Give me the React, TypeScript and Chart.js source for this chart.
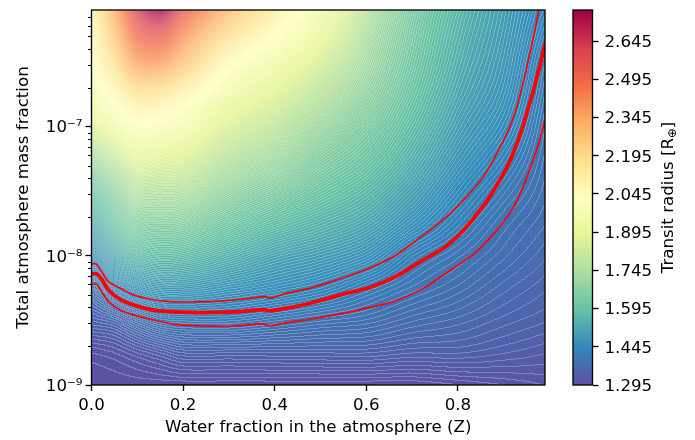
import React, { useEffect, useRef } from "react";
import { Chart, registerables } from "chart.js";

Chart.register(...registerables);

const FONT = "'DejaVu Sans', sans-serif";
const FS = 16.67;
const X_MAX = 0.99;
const Y_MIN = 1e-9;
const Y_MAX = 8e-7;
const C_MIN = 1.295;
const C_MAX = 2.767;
const BAND = (C_MAX - C_MIN) / 300;

const spectral = [
  "#5e4fa2", "#3288bd", "#66c2a5", "#abdda4", "#e6f598", "#ffffbf",
  "#fee08b", "#fdae61", "#f46d43", "#d53e4f", "#9e0142",
];

const gridZ = [0, 0.05, 0.1, 0.15, 0.2, 0.3, 0.4, 0.5, 0.6, 0.7, 0.8, 0.9, 0.99];
const gridLogM = [-9, -8.75, -8.5, -8.25, -8, -7.75, -7.5, -7.25, -7, -6.75, -6.5, -6.25, -6.097];
// transit radius, one row per gridLogM entry (bottom to top), one column per gridZ entry
const r00 = [1.3, 1.3, 1.3, 1.3, 1.3, 1.3, 1.3, 1.3, 1.3, 1.3, 1.305, 1.31, 1.315];
const r01 = [1.31, 1.315, 1.325, 1.335, 1.345, 1.345, 1.345, 1.345, 1.345, 1.34, 1.34, 1.335, 1.33];
const r02 = [1.35, 1.36, 1.385, 1.405, 1.41, 1.41, 1.4, 1.39, 1.383, 1.37, 1.362, 1.352, 1.345];
const r03 = [1.39, 1.44, 1.475, 1.49, 1.49, 1.475, 1.46, 1.443, 1.418, 1.397, 1.382, 1.366, 1.355];
const r04 = [1.46, 1.52, 1.565, 1.58, 1.575, 1.545, 1.515, 1.495, 1.47, 1.424, 1.4, 1.38, 1.365];
const r05 = [1.53, 1.6, 1.66, 1.67, 1.665, 1.62, 1.58, 1.55, 1.52, 1.47, 1.425, 1.392, 1.374];
const r06 = [1.6, 1.68, 1.76, 1.765, 1.76, 1.695, 1.65, 1.605, 1.565, 1.51, 1.452, 1.41, 1.381];
const r07 = [1.72, 1.8, 1.88, 1.875, 1.86, 1.775, 1.725, 1.66, 1.61, 1.545, 1.48, 1.432, 1.387];
const r08 = [1.86, 1.94, 2.01, 2.0, 1.965, 1.86, 1.795, 1.715, 1.65, 1.575, 1.505, 1.455, 1.394];
const r09 = [1.97, 2.06, 2.16, 2.15, 2.09, 1.95, 1.87, 1.78, 1.69, 1.6, 1.525, 1.473, 1.403];
const r10 = [2.03, 2.18, 2.36, 2.38, 2.28, 2.06, 1.955, 1.85, 1.725, 1.62, 1.54, 1.485, 1.414];
const r11 = [2.06, 2.28, 2.52, 2.58, 2.44, 2.21, 2.05, 1.92, 1.755, 1.635, 1.552, 1.495, 1.43];
const r12 = [2.08, 2.33, 2.62, 2.76, 2.56, 2.3, 2.12, 1.96, 1.775, 1.645, 1.56, 1.5, 1.44];
const radius = [r00, r01, r02, r03, r04, r05, r06, r07, r08, r09, r10, r11, r12];

const upperZ = [0, 0.01, 0.022, 0.037, 0.062, 0.091, 0.128, 0.172, 0.237, 0.287, 0.339, 0.379, 0.389, 0.427, 0.478, 0.529, 0.594, 0.66, 0.696, 0.747, 0.784, 0.813, 0.856, 0.893, 0.922, 0.944, 0.962, 0.977];
const upperLogM = [-8.062, -8.062, -8.122, -8.199, -8.25, -8.302, -8.336, -8.354, -8.357, -8.349, -8.331, -8.316, -8.328, -8.289, -8.25, -8.194, -8.114, -8.005, -7.915, -7.78, -7.669, -7.566, -7.385, -7.153, -6.92, -6.636, -6.351, -6.093];
const centerZ = [0, 0.011, 0.022, 0.037, 0.062, 0.091, 0.135, 0.179, 0.244, 0.31, 0.376, 0.389, 0.427, 0.478, 0.543, 0.609, 0.667, 0.718, 0.769, 0.813, 0.849, 0.868, 0.908, 0.937, 0.959, 0.977, 0.988, 0.992];
const centerLogM = [-8.14, -8.14, -8.181, -8.264, -8.336, -8.38, -8.421, -8.434, -8.44, -8.434, -8.416, -8.426, -8.405, -8.367, -8.302, -8.243, -8.155, -8.044, -7.94, -7.798, -7.643, -7.55, -7.308, -7.049, -6.791, -6.558, -6.39, -6.341];
const lowerZ = [0, 0.011, 0.022, 0.037, 0.062, 0.099, 0.135, 0.186, 0.244, 0.303, 0.376, 0.39, 0.427, 0.478, 0.543, 0.601, 0.66, 0.725, 0.784, 0.835, 0.878, 0.908, 0.928, 0.955, 0.977, 0.989];
const lowerLogM = [-8.219, -8.219, -8.277, -8.354, -8.419, -8.465, -8.496, -8.533, -8.543, -8.545, -8.527, -8.543, -8.517, -8.491, -8.45, -8.405, -8.354, -8.25, -8.11, -7.985, -7.83, -7.695, -7.58, -7.35, -7.12, -6.96];

const xTicks = [0, 0.2, 0.4, 0.6, 0.8];
const yMajorTicks = [1e-9, 1e-8, 1e-7];
const yMinorTicks = [2e-9, 3e-9, 4e-9, 5e-9, 6e-9, 7e-9, 8e-9, 9e-9, 2e-8, 3e-8, 4e-8, 5e-8, 6e-8, 7e-8, 8e-8, 9e-8, 2e-7, 3e-7, 4e-7, 5e-7, 6e-7, 7e-7];
const yMajorLabels = ["10\u207b\u2079", "10\u207b\u2078", "10\u207b\u2077"];
const colorbarTicks = [1.295, 1.445, 1.595, 1.745, 1.895, 2.045, 2.195, 2.345, 2.495, 2.645];

const hexRgb = (h: string) => [1, 3, 5].map((i) => parseInt(h.slice(i, i + 2), 16));
const rgbStops = spectral.map(hexRgb);

function colorFor(v: number) {
  const t = Math.max(0, Math.min(0.99999, (v - C_MIN) / (C_MAX - C_MIN))) * (rgbStops.length - 1);
  const i = Math.floor(t);
  const f = t - i;
  return [0, 1, 2].map((k) => rgbStops[i][k] + (rgbStops[i + 1][k] - rgbStops[i][k]) * f);
}

function segment(axis: number[], v: number) {
  let i = 0;
  while (i < axis.length - 2 && axis[i + 1] < v) i++;
  return i;
}

// smooth curve through a row of read values, respecting the uneven grid spacing
function hermite(axis: number[], vals: (i: number) => number, i: number, v: number) {
  const n = axis.length - 1;
  const slope = (k: number) => {
    const a = Math.max(0, k - 1);
    const b = Math.min(n, k + 1);
    return (vals(b) - vals(a)) / (axis[b] - axis[a]);
  };
  const h = axis[i + 1] - axis[i];
  const t = Math.max(0, Math.min(1, (v - axis[i]) / h));
  const t2 = t * t;
  const t3 = t2 * t;
  return (
    (2 * t3 - 3 * t2 + 1) * vals(i) +
    (t3 - 2 * t2 + t) * h * slope(i) +
    (-2 * t3 + 3 * t2) * vals(i + 1) +
    (t3 - t2) * h * slope(i + 1)
  );
}

function sampleField(z: number, segZ: number, logM: number, segM: number) {
  const cache: Record<number, number> = {};
  const colVal = (j: number) => {
    if (cache[j] === undefined) cache[j] = hermite(gridZ, (i) => radius[j][i], segZ, z);
    return cache[j];
  };
  return hermite(gridLogM, colVal, segM, logM);
}

const zeroPadding = (s: any) => {
  s.paddingTop = 0;
  s.paddingBottom = 0;
  s.paddingLeft = 0;
  s.paddingRight = 0;
};

const fieldPlugin = {
  id: "field",
  beforeDatasetsDraw(chart: any) {
    const { ctx, chartArea: a, scales } = chart;
    const x0 = Math.round(a.left);
    const y0 = Math.round(a.top);
    const w = Math.round(a.right) - x0;
    const h = Math.round(a.bottom) - y0;
    const zs: number[] = [];
    for (let i = 0; i <= w; i++) zs.push(scales.x.getValueForPixel(x0 + i + 0.5));
    const segs = zs.map((z) => segment(gridZ, z));
    const bands = new Float64Array((w + 1) * (h + 1));
    for (let j = 0; j <= h; j++) {
      const logM = Math.log10(scales.y.getValueForPixel(y0 + j + 0.5));
      const sm = segment(gridLogM, logM);
      for (let i = 0; i <= w; i++) {
        bands[j * (w + 1) + i] = Math.floor((sampleField(zs[i], segs[i], logM, sm) - C_MIN) / BAND);
      }
    }
    const off = document.createElement("canvas");
    off.width = w;
    off.height = h;
    const octx = off.getContext("2d")!;
    const img = octx.createImageData(w, h);
    for (let j = 0; j < h; j++) {
      for (let i = 0; i < w; i++) {
        const b = bands[j * (w + 1) + i];
        const edge = b !== bands[j * (w + 1) + i + 1] || b !== bands[(j + 1) * (w + 1) + i];
        const c = colorFor(C_MIN + (b + 0.5) * BAND);
        const o = (j * w + i) * 4;
        const alpha = edge ? 0.25 : 0;
        img.data[o] = c[0] + (255 - c[0]) * alpha;
        img.data[o + 1] = c[1] + (255 - c[1]) * alpha;
        img.data[o + 2] = c[2] + (255 - c[2]) * alpha;
        img.data[o + 3] = 255;
      }
    }
    octx.putImageData(img, 0, 0);
    ctx.drawImage(off, x0, y0);
  },
  afterDatasetsDraw(chart: any) {
    const { ctx, chartArea: a, scales } = chart;
    ctx.save();
    ctx.strokeStyle = "#000";
    ctx.lineWidth = 1.33;
    ctx.strokeRect(a.left, a.top, a.right - a.left, a.bottom - a.top);
    ctx.lineWidth = 1;
    ctx.beginPath();
    yMinorTicks.forEach((v) => {
      const y = Math.round(scales.y.getPixelForValue(v)) + 0.5;
      ctx.moveTo(a.left - 3.5, y);
      ctx.lineTo(a.left, y);
    });
    ctx.stroke();
    ctx.restore();
  },
};

const linePoints = (zs: number[], logs: number[]) => zs.map((z, i) => ({ x: z, y: Math.pow(10, logs[i]) }));

export default function App() {
  const mainRef = useRef<HTMLCanvasElement>(null);
  const barRef = useRef<HTMLCanvasElement>(null);

  useEffect(() => {
    const lineStyle = { borderColor: "#ff0000", pointRadius: 0, showLine: true, tension: 0.25, fill: false };
    const tickGrid = { drawOnChartArea: false, tickLength: 6, tickColor: "#000", tickWidth: 1.33 };
    const font = { family: FONT, size: FS };
    const main = new Chart(mainRef.current!, {
      type: "scatter",
      data: {
        datasets: [
          { ...lineStyle, label: "Upper", data: linePoints(upperZ, upperLogM), borderWidth: 1.7 },
          { ...lineStyle, label: "Central", data: linePoints(centerZ, centerLogM), borderWidth: 3.8 },
          { ...lineStyle, label: "Lower", data: linePoints(lowerZ, lowerLogM), borderWidth: 1.7 },
        ],
      },
      options: {
        animation: false,
        responsive: false,
        layout: { padding: { left: 0, right: 150, top: 10, bottom: 0 } },
        plugins: { legend: { display: false }, tooltip: { enabled: false } },
        scales: {
          x: {
            type: "linear",
            min: 0,
            max: X_MAX,
            afterFit: (s: any) => { s.height = 55; zeroPadding(s); },
            afterBuildTicks: (s: any) => { s.ticks = xTicks.map((value) => ({ value })); },
            grid: tickGrid,
            border: { display: false },
            ticks: {
              autoSkip: false,
              maxRotation: 0,
              padding: 5,
              color: "#000",
              font,
              callback: (v: any) => Number(v).toFixed(1),
            },
            title: {
              display: true,
              text: "Water fraction in the atmosphere (Z)",
              color: "#000",
              font,
              padding: { top: 0, bottom: 2 },
            },
          },
          y: {
            type: "logarithmic",
            min: Y_MIN,
            max: Y_MAX,
            afterFit: (s: any) => { s.width = 91.5; zeroPadding(s); },
            afterBuildTicks: (s: any) => { s.ticks = yMajorTicks.map((value) => ({ value, major: true })); },
            grid: tickGrid,
            border: { display: false },
            ticks: {
              autoSkip: false,
              padding: 3,
              labelOffset: 1.5,
              color: "#000",
              font,
              callback: (v: any) => yMajorLabels[yMajorTicks.findIndex((t) => Math.abs(t - v) < t * 0.01)] ?? "",
            },
            title: {
              display: true,
              text: "Total atmosphere mass fraction",
              color: "#000",
              font,
              padding: { top: 14, bottom: 0 },
            },
          },
        },
      },
      plugins: [fieldPlugin],
    } as any);

    const bar = new Chart(barRef.current!, {
      type: "bar",
      data: {
        labels: ["Transit radius"],
        datasets: [
          {
            data: [[C_MIN, C_MAX]],
            barPercentage: 1,
            categoryPercentage: 1,
            borderSkipped: false,
            backgroundColor: (c: any) => {
              const a = c.chart.chartArea;
              if (!a) return spectral[0];
              const g = c.chart.ctx.createLinearGradient(0, a.bottom, 0, a.top);
              spectral.forEach((col, i) => g.addColorStop(i / (spectral.length - 1), col));
              return g;
            },
          },
        ],
      },
      options: {
        animation: false,
        responsive: false,
        layout: { padding: { left: 13, right: 0, top: 10, bottom: 55 } },
        plugins: { legend: { display: false }, tooltip: { enabled: false } },
        scales: {
          x: { display: false },
          y: {
            position: "right",
            min: C_MIN,
            max: C_MAX,
            afterFit: (s: any) => { s.width = 102.5; zeroPadding(s); },
            afterBuildTicks: (s: any) => { s.ticks = colorbarTicks.map((value) => ({ value })); },
            grid: tickGrid,
            border: { display: false },
            ticks: {
              autoSkip: false,
              padding: 6,
              labelOffset: 1.5,
              color: "#000",
              font,
              callback: (v: any) => Number(v).toFixed(3),
            },
          },
        },
      },
      plugins: [
        {
          id: "barFrame",
          afterDatasetsDraw(chart: any) {
            const { ctx, chartArea: a } = chart;
            ctx.save();
            ctx.strokeStyle = "#000";
            ctx.lineWidth = 1.33;
            ctx.strokeRect(a.left, a.top, a.right - a.left, a.bottom - a.top);
            // rotated colorbar title with a subscript symbol
            const main = "Transit radius [R";
            const sub = "\u2295";
            const end = "]";
            const full = `${FS}px ${FONT}`;
            const small = `${FS * 0.7}px ${FONT}`;
            ctx.font = full;
            const w1 = ctx.measureText(main).width;
            const w3 = ctx.measureText(end).width;
            ctx.font = small;
            const w2 = ctx.measureText(sub).width;
            ctx.translate(107, (a.top + a.bottom) / 2);
            ctx.rotate(-Math.PI / 2);
            ctx.fillStyle = "#000";
            ctx.textBaseline = "alphabetic";
            ctx.textAlign = "left";
            const x = -(w1 + w2 + w3) / 2;
            ctx.font = full;
            ctx.fillText(main, x, 6);
            ctx.font = small;
            ctx.fillText(sub, x + w1, 9);
            ctx.font = full;
            ctx.fillText(end, x + w1 + w2, 6);
            ctx.restore();
          },
        },
      ],
    } as any);

    return () => {
      main.destroy();
      bar.destroy();
    };
  }, []);

  return (
    <div style={{ position: "absolute", left: 0, top: 0, width: 695, height: 440, overflow: "hidden", background: "#fff" }}>
      <canvas ref={mainRef} width={695} height={440} style={{ position: "absolute", left: 0, top: 0, width: 695, height: 440 }} />
      <canvas ref={barRef} width={135} height={440} style={{ position: "absolute", left: 560, top: 0, width: 135, height: 440 }} />
    </div>
  );
}
